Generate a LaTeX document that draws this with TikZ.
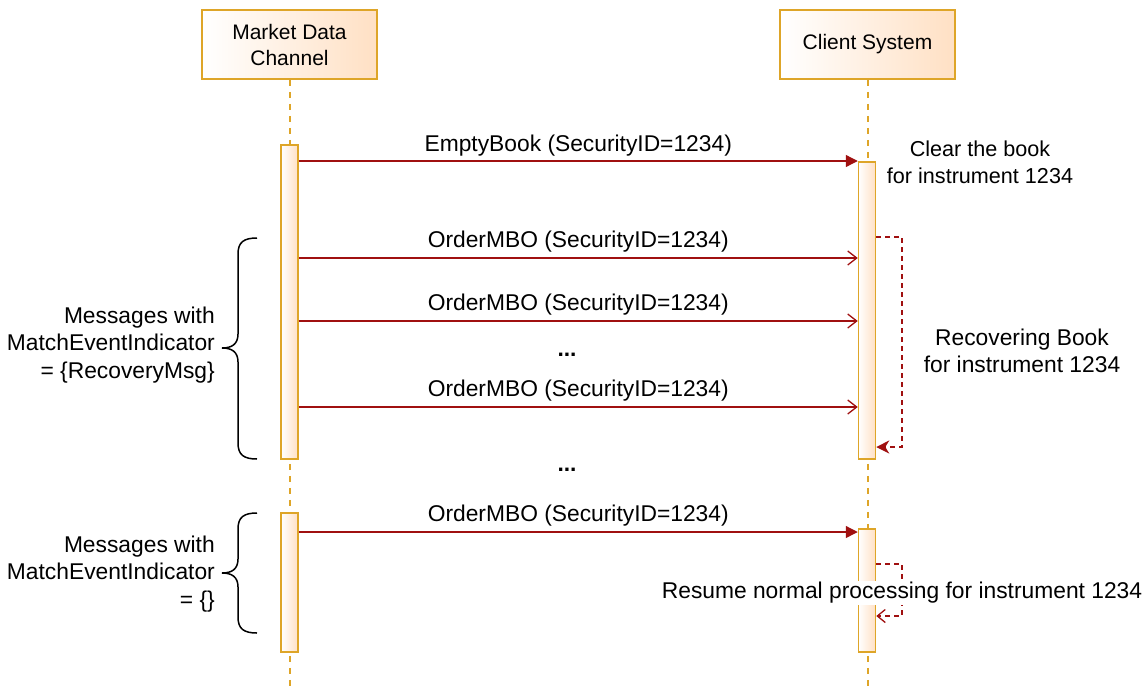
\documentclass[tikz,border=0pt]{standalone}
\usepackage{fontspec}
\setmainfont{Liberation Sans}
\usetikzlibrary{arrows.meta}
\definecolor{lifeorange}{RGB}{222,165,40}
\definecolor{boxfill}{RGB}{255,224,196}
\definecolor{msgred}{RGB}{160,16,16}
\begin{document}
\begin{tikzpicture}[x=1pt,y=-1pt,
  every node/.style={font=\fontsize{22.8}{27.5}\selectfont, inner sep=2pt, text=black},
  participant/.style={draw=lifeorange, line width=1.5pt, left color=white, right color=boxfill, minimum width=175pt, minimum height=69pt, align=center, font=\fontsize{21}{26}\selectfont},
  actbar/.style={draw=lifeorange, line width=1.5pt, left color=white, right color=boxfill, minimum width=17pt},
  lifeline/.style={lifeorange, line width=2pt, dash pattern=on 6pt off 6pt},
  msgfilled/.style={msgred, line width=1.3pt, -{Triangle[length=12pt,width=12pt]}},
  msgopen/.style={msgred, line width=1.3pt, -{Straight Barb[length=9pt,width=14pt]}},
  selfcall/.style={msgred, line width=1.3pt, dash pattern=on 5pt off 4pt},
  bracepath/.style={black, line width=1.5pt},
  msglabel/.style={anchor=south, inner sep=5.5pt}
]
\useasboundingbox (0,0) rectangle (1147,691);
% participants
\node[participant] (mdc) at (289.5,44.5) {Market Data\\Channel};
\node[participant] (cs) at (867.5,44.5) {Client System};
\coordinate (mdcend) at (289.5,691);
\coordinate (csend) at (867.5,691);
\draw[lifeline] (mdc.south) -- (mdcend);
\draw[lifeline] (cs.south) -- (csend);
% activation bars
\node[actbar, minimum height=314pt] (bL1) at (289.5,302) {};
\node[actbar, minimum height=139pt] (bL2) at (289.5,582.5) {};
\node[actbar, minimum height=297pt] (bR1) at (867,310.5) {};
\node[actbar, minimum height=123pt] (bR2) at (867,590.5) {};
% messages
\draw[msgfilled] (bL1.east |- 0,161) -- node[msglabel, inner sep=4pt] {EmptyBook (SecurityID=1234)} (bR1.west |- 0,161);
\draw[msgopen] (bL1.east |- 0,258) -- node[msglabel] {OrderMBO (SecurityID=1234)} (bR1.west |- 0,258);
\draw[msgopen] (bL1.east |- 0,321) -- node[msglabel] {OrderMBO (SecurityID=1234)} (bR1.west |- 0,321);
\node (dots1) at (567,355) {\textbf{...}};
\draw[msgopen] (bL1.east |- 0,407) -- node[msglabel] {OrderMBO (SecurityID=1234)} (bR1.west |- 0,407);
\node (dots2) at (567,470) {\textbf{...}};
\draw[msgfilled] (bL2.east |- 0,532) -- node[msglabel] {OrderMBO (SecurityID=1234)} (bR2.west |- 0,532);
% self calls
\coordinate (l1a) at (902,237);
\coordinate (l1b) at (902,447);
\draw[selfcall, -{Stealth[length=13pt,width=13pt,inset=4pt]}] (bR1.east |- l1a) -- (l1a) -- (l1b) -- (bR1.east |- l1b);
\coordinate (l2a) at (902,564);
\coordinate (l2b) at (902,616);
\draw[selfcall, -{Straight Barb[length=8pt,width=13pt]}] (bR2.east |- l2a) -- (l2a) -- (l2b) -- (bR2.east |- l2b);
% annotations
\node[align=center, font=\fontsize{21.6}{27}\selectfont] (clear) at (980,162) {Clear the book\\for instrument 1234};
\node[align=center] (recov) at (1022,351) {Recovering Book\\for instrument 1234};
\node[fill=white, inner sep=1pt] (resume) at (902,593) {Resume normal processing for instrument 1234};
\node[align=right, anchor=east] (grp1) at (217,345) {Messages with\\MatchEventIndicator\\= \{RecoveryMsg\}};
\node[align=right, anchor=east] (grp2) at (217,574) {Messages with\\MatchEventIndicator\\= \{\}};
% braces
\draw[bracepath] (257,238) .. controls (244,238) and (238,242) .. (238,254) -- (238,334)
  .. controls (238,344) and (232,348) .. (222,348)
  .. controls (232,348) and (238,352) .. (238,362) -- (238,443)
  .. controls (238,455) and (244,459) .. (257,459);
\draw[bracepath] (257,513) .. controls (244,513) and (238,517) .. (238,529) -- (238,559)
  .. controls (238,569) and (232,573) .. (222,573)
  .. controls (232,573) and (238,577) .. (238,587) -- (238,617)
  .. controls (238,629) and (244,633) .. (257,633);
\end{tikzpicture}
\end{document}
